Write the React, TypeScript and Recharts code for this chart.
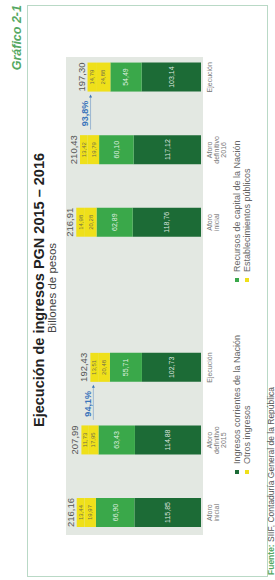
import React from "react";
import { BarChart, Bar, XAxis, YAxis, LabelList } from "recharts";

// Ejecución de ingresos PGN 2015 - 2016 (billones de pesos)
const categorias = [
  "Aforo inicial",
  "Aforo definitivo 2015",
  "Ejecución",
  "",
  "Aforo inicial",
  "Aforo definitivo 2016",
  "Ejecución",
];
const corrientes = [115.85, 114.88, 102.73, null, 118.76, 117.12, 103.14];
const capital = [66.9, 63.43, 55.71, null, 62.89, 60.1, 54.49];
const otros = [19.97, 17.95, 20.48, null, 20.28, 19.79, 24.88];
const establecimientos = [13.44, 11.73, 13.51, null, 14.98, 13.42, 14.79];
const totales = [216.16, 207.99, 192.43, null, 216.91, 210.43, 197.3];
const ejecucion = ["", "", "94,1%", "", "", "", "93,8%"];

const series = [
  "Ingresos corrientes de la Nación",
  "Recursos de capital de la Nación",
  "Otros ingresos",
  "Establecimientos públicos",
];

const DARK = "#1c6b36";
const GREEN = "#3aa84a";
const YELLOW = "#efe01a";
const BLUE = "#3a74bb";
const FONT = '"Liberation Sans", Arial, sans-serif';

const data = categorias.map((cat, i) => ({
  cat,
  corrientes: corrientes[i],
  capital: capital[i],
  otros: otros[i],
  establecimientos: establecimientos[i],
  total: totales[i],
  pct: ejecucion[i],
}));

const fmt = (v: number) => v.toFixed(2).replace(".", ",");

function box(p: any) {
  const vb = p.viewBox || {};
  return {
    x: p.x ?? vb.x,
    y: p.y ?? vb.y,
    w: p.width ?? vb.width,
    h: p.height ?? vb.height,
  };
}

function segLabel(color: string, size: number) {
  return (p: any) => {
    if (p.value == null || p.value === "") return null;
    const b = box(p);
    return (
      <text
        x={b.x + b.w / 2}
        y={b.y + b.h / 2}
        dy={size * 0.35}
        textAnchor="middle"
        fontSize={size}
        fill={color}
        fillOpacity={0.85}
        fontFamily={FONT}
      >
        {fmt(Number(p.value))}
      </text>
    );
  };
}

function TotalLabel(p: any) {
  if (p.value == null || p.value === "") return null;
  const b = box(p);
  return (
    <text x={b.x + b.w / 2} y={b.y - 3} textAnchor="middle" fontSize={9.5} fill="#555" fontFamily={FONT}>
      {fmt(Number(p.value))}
    </text>
  );
}

function PctLabel(p: any) {
  if (!p.value) return null;
  const b = box(p);
  const cx = b.x - 22;
  return (
    <g>
      <text x={cx} y={b.y + 0.5} textAnchor="middle" fontSize={9} fontWeight="bold" fill={BLUE} fontFamily={FONT}>
        {p.value}
      </text>
      <line x1={b.x - 38} y1={b.y + 3} x2={b.x - 5} y2={b.y + 3} stroke={BLUE} strokeWidth={0.6} strokeOpacity={0.7} />
      <path d={`M${b.x - 3},${b.y + 3} l-3,-1.5 l0,3 z`} fill={BLUE} />
    </g>
  );
}

function CatTick(p: any) {
  const lines = String(p.payload?.value ?? "").split(" ").filter(Boolean);
  return (
    <g transform={`translate(${p.x},${p.y})`}>
      {lines.map((l, i) => (
        <text key={i} x={0} y={10.5 + i * 7} textAnchor="middle" fontSize={7} fill="#777" fontFamily={FONT}>
          {l}
        </text>
      ))}
    </g>
  );
}

const legendItems = [
  { name: series[0], color: DARK, x: 106, y: 237 },
  { name: series[1], color: GREEN, x: 298, y: 237 },
  { name: series[2], color: YELLOW, x: 106, y: 247 },
  { name: series[3], color: YELLOW, x: 298, y: 247 },
];

export default function App() {
  return (
    <div style={{ position: "fixed", left: 0, top: 0, width: 275, height: 580, overflow: "hidden", background: "#fff" }}>
      <div
        style={{
          position: "absolute",
          left: 0,
          top: 0,
          width: 580,
          height: 275,
          transformOrigin: "0 0",
          transform: "translateY(580px) rotate(-90deg)",
          fontFamily: FONT,
        }}
      >
        <svg width={580} height={275} style={{ position: "absolute", left: 0, top: 0 }}>
          <rect x={3.5} y={27.5} width={571} height={240} fill="none" stroke="#b9d9c6" strokeWidth={1} />
          <rect x={45} y={66} width={478} height={137} fill="#e3e8e2" />
          <text x={575} y={21} textAnchor="end" fontSize={12.5} fontStyle="italic" fontWeight="bold" fill="#55a862" fontFamily={FONT}>
            Gráfico 2-1
          </text>
          <text x={290} y={43.5} textAnchor="middle" fontSize={14.5} fontWeight="bold" fill="#222" fontFamily={FONT}>
            Ejecución de ingresos PGN 2015 – 2016
          </text>
          <text x={292} y={56} textAnchor="middle" fontSize={11.5} fill="#444" fontFamily={FONT}>
            Billones de pesos
          </text>
          {legendItems.map((it) => (
            <g key={it.name}>
              <rect x={it.x} y={it.y - 2} width={4} height={4} fill={it.color} />
              <text x={it.x + 10} y={it.y + 3} fontSize={9} fill="#666" fontFamily={FONT}>
                {it.name}
              </text>
            </g>
          ))}
          <text x={5} y={273.5} fontSize={8.5} fill="#555" fontFamily={FONT}>
            <tspan fill="#55a862" fontWeight="bold">Fuente:</tspan> SIIF, Contaduría General de la República
          </text>
        </svg>
        <div style={{ position: "absolute", left: 0, top: 0 }}>
          <BarChart width={580} height={275} data={data} margin={{ top: 63, right: 41, bottom: 43, left: 31 }}>
            <XAxis
              dataKey="cat"
              height={31}
              axisLine={false}
              tickLine={false}
              tickSize={0}
              tickMargin={0}
              interval={0}
              tick={<CatTick />}
            />
            <YAxis hide domain={[0, 240]} />
            <Bar dataKey="corrientes" stackId="a" fill={DARK} barSize={29} isAnimationActive={false}>
              <LabelList dataKey="corrientes" content={segLabel("#fff", 7)} />
            </Bar>
            <Bar dataKey="capital" stackId="a" fill={GREEN} barSize={29} isAnimationActive={false}>
              <LabelList dataKey="capital" content={segLabel("#fff", 7)} />
            </Bar>
            <Bar dataKey="otros" stackId="a" fill={YELLOW} barSize={29} isAnimationActive={false}>
              <LabelList dataKey="otros" content={segLabel("#555", 6)} />
            </Bar>
            <Bar dataKey="establecimientos" stackId="a" fill={YELLOW} barSize={29} isAnimationActive={false}>
              <LabelList dataKey="establecimientos" content={segLabel("#555", 6)} />
              <LabelList dataKey="total" content={TotalLabel} />
              <LabelList dataKey="pct" content={PctLabel} />
            </Bar>
          </BarChart>
        </div>
      </div>
    </div>
  );
}
